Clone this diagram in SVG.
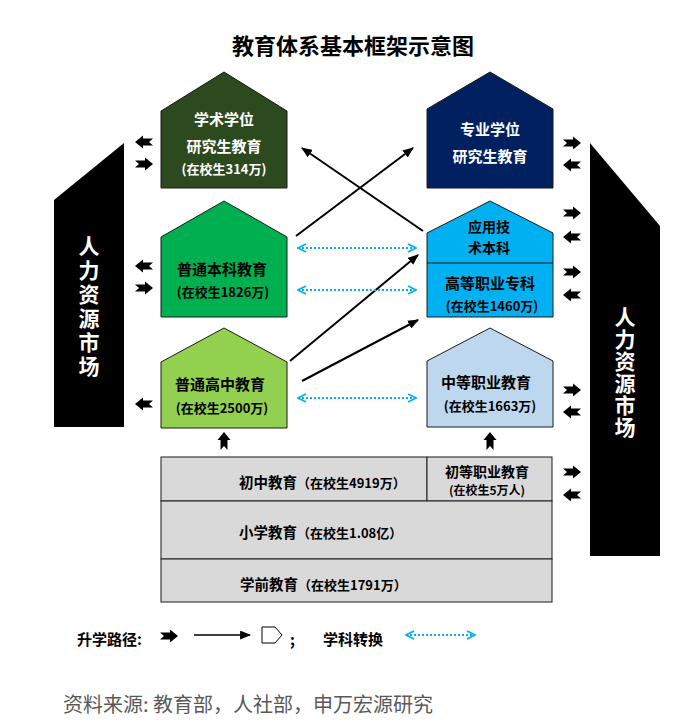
<svg xmlns="http://www.w3.org/2000/svg" xmlns:xlink="http://www.w3.org/1999/xlink" width="686" height="721" viewBox="0 0 686 721">
<style>
text{font-family:"Noto Sans CJK SC","Noto Sans",sans-serif;font-weight:bold}
.house{stroke:#1a1a1a;stroke-width:1}
.w{fill:#ffffff}
.k{fill:#000000}
.f15{font-size:15px}
.f14{font-size:14px}
.f13{font-size:13px}
.f12{font-size:12px}
.mid{text-anchor:middle}
.conn{stroke:#000;stroke-width:2;fill:none}
.dot{stroke:#00B0F0;stroke-width:2;stroke-dasharray:2 2;fill:none}
.bar{fill:#000}
.vt{font-size:21px;fill:#fff;writing-mode:vertical-rl;text-orientation:upright}
</style>
<defs>
<path id="ba" d="M-9,-3.5 L1,-3.5 L1,-6.5 L9,0 L1,6.5 L1,3.5 L-9,3.5 L-5,0 Z" fill="#000"/>
<marker id="ah" viewBox="0 0 10 8" refX="9" refY="4" markerWidth="11" markerHeight="9" markerUnits="userSpaceOnUse" orient="auto">
<path d="M0,0 L10,4 L0,8 Z" fill="#000"/>
</marker>
<marker id="ch" viewBox="0 0 10 10" refX="9" refY="5" markerWidth="10" markerHeight="10" markerUnits="userSpaceOnUse" orient="auto-start-reverse">
<path d="M1,1 L9,5 L1,9" fill="none" stroke="#00B0F0" stroke-width="1.8"/>
</marker>
</defs>
<rect width="686" height="721" fill="#fff"/>
<text x="353" y="54" class="mid" style="font-size:22px" fill="#000">教育体系基本框架示意图</text>

<g id="hr-left">
<polygon class="bar" points="54,200 124,143 124,427 54,427"/>
<text class="vt" x="89" y="236" style="letter-spacing:3px">人力资源市场</text>
</g>
<g id="hr-right">
<polygon class="bar" points="590,143 660,226 660,556 590,556"/>
<text class="vt" x="625" y="307" style="letter-spacing:1px">人力资源市场</text>
</g>

<g id="academic-grad">
<polygon class="house" fill="#2D4A1F" points="161,111 224,72 287,111 287,188 161,188"/>
<text x="224" y="125" class="mid f15 w">学术学位</text>
<text x="224" y="152" class="mid f15 w">研究生教育</text>
<text x="224" y="174" class="mid f13 w">(在校生314万)</text>
</g>
<g id="professional-grad">
<polygon class="house" fill="#002060" points="427,109 490,72 553,109 553,188 427,188"/>
<text x="490" y="135" class="mid f15 w">专业学位</text>
<text x="490" y="162" class="mid f15 w">研究生教育</text>
</g>
<g id="undergrad">
<polygon class="house" fill="#00B050" points="161,237 224,201 287,237 287,317 161,317"/>
<text x="222" y="275" class="mid f15 k">普通本科教育</text>
<text x="223" y="297" class="mid f13 k">(在校生1826万)</text>
</g>
<g id="applied-vocational">
<polygon class="house" fill="#00B0F0" points="427,233 490,201 553,233 553,317 427,317"/>
<line x1="427" y1="263" x2="553" y2="263" stroke="#1a1a1a" stroke-width="1"/>
<text class="mid f14 k"><tspan x="489" y="232">应用技</tspan><tspan x="489" y="252.5">术本科</tspan></text>
<text x="490" y="289" class="mid f15 k">高等职业专科</text>
<text x="492" y="311" class="mid f13 k">(在校生1460万)</text>
</g>
<g id="high-school">
<polygon class="house" fill="#92D050" points="161,362 224,328 287,362 287,428 161,428"/>
<text x="220" y="390" class="mid f15 k">普通高中教育</text>
<text x="222" y="413" class="mid f13 k">(在校生2500万)</text>
</g>
<g id="secondary-vocational">
<polygon class="house" fill="#BDD7EE" points="427,361 490,328 553,361 553,427 427,427"/>
<text x="486" y="388" class="mid f15 k">中等职业教育</text>
<text x="490" y="411" class="mid f13 k">(在校生1663万)</text>
</g>
<g id="junior-middle">
<rect x="161" y="457" width="266" height="44" fill="#D9D9D9" stroke="#1a1a1a" stroke-width="1"/>
<text x="239" y="488" class="k"><tspan style="font-size:14.5px">初中教育</tspan><tspan class="f13">（在校生4919万）</tspan></text>
</g>
<g id="primary-vocational">
<rect x="427" y="457" width="125" height="44" fill="#D9D9D9" stroke="#1a1a1a" stroke-width="1"/>
<text x="487" y="477" class="mid f14 k">初等职业教育</text>
<text x="487" y="495" class="mid f12 k">(在校生5万人)</text>
</g>
<g id="primary">
<rect x="161" y="501" width="391" height="58" fill="#D9D9D9" stroke="#1a1a1a" stroke-width="1"/>
<text x="239" y="538" class="k"><tspan style="font-size:14.5px">小学教育</tspan><tspan class="f13">（在校生1.08亿）</tspan></text>
</g>
<g id="preschool">
<rect x="161" y="559" width="391" height="43" fill="#D9D9D9" stroke="#1a1a1a" stroke-width="1"/>
<text x="240" y="590" class="k"><tspan style="font-size:14.5px">学前教育</tspan><tspan class="f13">（在校生1791万）</tspan></text>
</g>

<g id="connectors">
<line class="conn" x1="296" y1="236" x2="413" y2="148" marker-end="url(#ah)"/>
<line class="conn" x1="423" y1="231" x2="302" y2="148" marker-end="url(#ah)"/>
<line class="conn" x1="290" y1="361" x2="418" y2="255" marker-end="url(#ah)"/>
<line class="conn" x1="302" y1="381" x2="418" y2="320" marker-end="url(#ah)"/>
<line class="dot" x1="298" y1="248" x2="416" y2="248" marker-start="url(#ch)" marker-end="url(#ch)"/>
<line class="dot" x1="298" y1="290" x2="416" y2="290" marker-start="url(#ch)" marker-end="url(#ch)"/>
<line class="dot" x1="298" y1="398" x2="416" y2="398" marker-start="url(#ch)" marker-end="url(#ch)"/>
<use xlink:href="#ba" transform="translate(144,142) rotate(180)"/>
<use xlink:href="#ba" transform="translate(144,164)"/>
<use xlink:href="#ba" transform="translate(144,266) rotate(180)"/>
<use xlink:href="#ba" transform="translate(144,288)"/>
<use xlink:href="#ba" transform="translate(144,404) rotate(180)"/>
<use xlink:href="#ba" transform="translate(572,143)"/>
<use xlink:href="#ba" transform="translate(572,165) rotate(180)"/>
<use xlink:href="#ba" transform="translate(572,213)"/>
<use xlink:href="#ba" transform="translate(572,237) rotate(180)"/>
<use xlink:href="#ba" transform="translate(572,272)"/>
<use xlink:href="#ba" transform="translate(572,295) rotate(180)"/>
<use xlink:href="#ba" transform="translate(572,390)"/>
<use xlink:href="#ba" transform="translate(572,412) rotate(180)"/>
<use xlink:href="#ba" transform="translate(572,472)"/>
<use xlink:href="#ba" transform="translate(572,495) rotate(180)"/>
<use xlink:href="#ba" transform="translate(224,441) rotate(-90)"/>
<use xlink:href="#ba" transform="translate(490,441) rotate(-90)"/>
</g>

<g id="legend">
<text x="77" y="645" class="k" style="font-size:15px">升学路径:</text>
<use xlink:href="#ba" transform="translate(169,636)"/>
<line x1="194" y1="635" x2="250" y2="635" stroke="#000" stroke-width="1.5" marker-end="url(#ah)"/>
<polygon points="262,627 275,627 282,635 275,643 262,643" fill="#fff" stroke="#000" stroke-width="1"/>
<text x="290" y="645" class="k" style="font-size:15px">;</text>
<text x="323" y="645" class="k" style="font-size:15px">学科转换</text>
<line class="dot" x1="406" y1="635" x2="475" y2="635" stroke-width="1.5" marker-start="url(#ch)" marker-end="url(#ch)"/>
</g>
<text x="63" y="712" style="font-size:20px;font-weight:normal" fill="#595959">资料来源: 教育部，人社部，申万宏源研究</text>
</svg>
